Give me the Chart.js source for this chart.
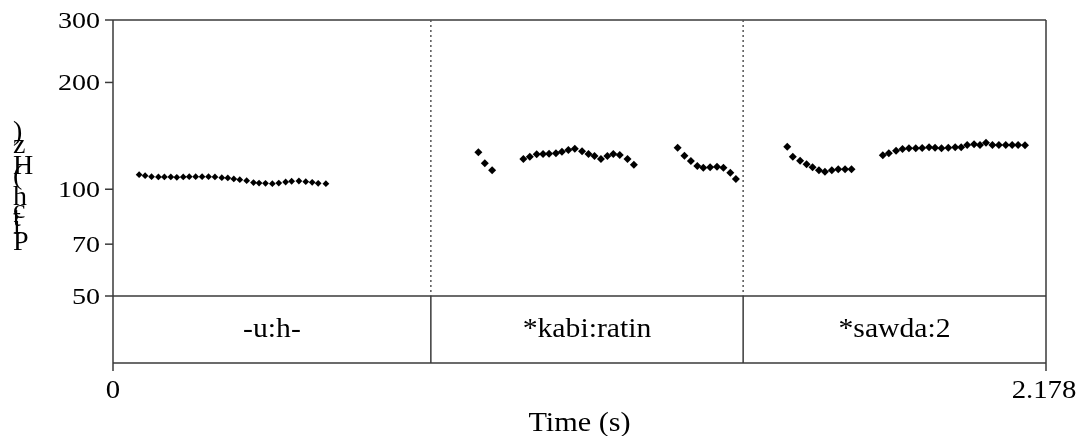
<!DOCTYPE html>
<html>
<head>
<meta charset="utf-8">
<title>Pitch track</title>
<script src="https://cdn.jsdelivr.net/npm/chart.js@4.4.1/dist/chart.umd.min.js"></script>
<style>
  body { margin: 0; background: #fff; }
  #wrap { width: 1080px; height: 436px; }
</style>
</head>
<body>
<div id="wrap"><canvas id="pitch-chart" width="1080" height="436"></canvas></div>
<script>
// Axis ranges and tick labels
const timeMin = 0;
const timeMax = 2.178;
const pitchMin = 50;
const pitchMax = 300;
const pitchTicks = [50, 70, 100, 200, 300];
const timeTickLabels = ['0', '2.178'];
const xTitle = 'Time (s)';
const yTitle = 'Pitch (Hz)';

// Text grid tier: interval boundaries (s) and labels
const tierBounds = [0, 0.742, 1.471, 2.178];
const tierLabels = ['-u:h-', '*kabi:ratin', '*sawda:2'];

// Voiced stretches: time (s) and pitch (Hz)
const seg1Time = [0.061, 0.075, 0.090, 0.106, 0.120, 0.135, 0.149, 0.164, 0.178, 0.193,
                  0.208, 0.223, 0.238, 0.254, 0.268, 0.282, 0.296, 0.312, 0.328, 0.341,
                  0.356, 0.372, 0.387, 0.403, 0.417, 0.434, 0.450, 0.465, 0.479, 0.497];
const seg1Hz = [109.9, 109.2, 108.5, 108.3, 108.3, 108.3, 108.0, 108.3, 108.5, 108.5,
                108.5, 108.5, 108.3, 107.8, 107.6, 106.9, 106.4, 105.7, 104.4, 104.1,
                103.9, 103.7, 104.1, 104.8, 105.3, 105.5, 105.0, 104.6, 103.9, 103.7];

const seg2aTime = [0.853, 0.868, 0.885];
const seg2aHz = [127.1, 118.3, 113.1];

const seg2bTime = [0.958, 0.973, 0.989, 1.004, 1.018, 1.034, 1.048, 1.063, 1.078,
                   1.095, 1.110, 1.124, 1.139, 1.154, 1.168, 1.183, 1.201, 1.216];
const seg2bHz = [121.7, 123.5, 125.5, 125.7, 126.0, 126.3, 127.6, 129.0, 130.1,
                 127.9, 125.7, 124.1, 121.7, 124.1, 125.7, 124.9, 121.7, 117.3];

const seg2cTime = [1.318, 1.334, 1.349, 1.364, 1.378, 1.394, 1.410, 1.425, 1.441, 1.454];
const seg2cHz = [131.0, 124.3, 120.1, 116.3, 115.0, 115.3, 115.8, 115.0, 111.3, 106.9];

const seg3aTime = [1.574, 1.587, 1.604, 1.619, 1.633, 1.648, 1.662, 1.678, 1.693, 1.709, 1.724];
const seg3aHz = [131.8, 123.5, 120.4, 117.6, 115.3, 113.1, 112.1, 113.1, 113.8, 113.8, 113.8];

const seg3bTime = [1.797, 1.811, 1.828, 1.843, 1.858, 1.874, 1.889, 1.905, 1.919, 1.934, 1.950, 1.966,
                   1.980, 1.994, 2.010, 2.024, 2.038, 2.053, 2.068, 2.084, 2.099, 2.113, 2.129];
const seg3bHz = [124.7, 126.3, 128.4, 129.9, 130.5, 130.5, 130.7, 131.3, 131.0, 130.5, 131.0, 131.3,
                 131.3, 133.3, 133.9, 133.3, 135.3, 133.3, 133.3, 133.3, 133.3, 133.3, 133.0];

const segments = [
    { time: seg1Time, hz: seg1Hz, radius: 3.4 },
    { time: seg2aTime, hz: seg2aHz, radius: 4 },
    { time: seg2bTime, hz: seg2bHz, radius: 4 },
    { time: seg2cTime, hz: seg2cHz, radius: 4 },
    { time: seg3aTime, hz: seg3aHz, radius: 4 },
    { time: seg3bTime, hz: seg3bHz, radius: 4 }
];

const serif = '"Liberation Serif", "Times New Roman", Times, serif';

// Draw text stretched horizontally like the original export
function drawText(ctx, text, x, y, size, sx, align) {
    ctx.save();
    ctx.font = size + 'px ' + serif;
    ctx.textAlign = align || 'center';
    ctx.textBaseline = 'alphabetic';
    ctx.fillStyle = '#000';
    ctx.translate(x, y);
    ctx.scale(sx, 1);
    ctx.fillText(text, 0, 0);
    ctx.restore();
}

function line(ctx, x1, y1, x2, y2) {
    ctx.beginPath();
    ctx.moveTo(x1, y1);
    ctx.lineTo(x2, y2);
    ctx.stroke();
}

// Frame, ticks, tier and labels
const praatFrame = {
    id: 'praatFrame',
    beforeDatasetsDraw(chart) {
        const ctx = chart.ctx;
        const a = chart.chartArea;
        const xs = chart.scales.x;
        const ys = chart.scales.y;
        const tierBottom = a.bottom + 67;
        const tick = 8;

        ctx.save();
        ctx.strokeStyle = '#3a3a3a';
        ctx.lineWidth = 1.5;

        // outer frame
        line(ctx, a.left, a.top, a.left, tierBottom + tick);
        line(ctx, a.right, a.top, a.right, tierBottom + tick);
        line(ctx, a.left, a.top, a.right, a.top);
        line(ctx, a.left, a.bottom, a.right, a.bottom);
        line(ctx, a.left, tierBottom, a.right, tierBottom);

        // pitch ticks
        pitchTicks.forEach(v => {
            const py = ys.getPixelForValue(v);
            line(ctx, a.left - tick, py, a.left, py);
            drawText(ctx, String(v), a.left - 13, py + 8, 23, 1.22, 'right');
        });

        // tier boundaries
        tierBounds.slice(1, -1).forEach(t => {
            const px = xs.getPixelForValue(t);
            ctx.save();
            ctx.strokeStyle = '#555';
            ctx.setLineDash([2, 3]);
            line(ctx, px, a.top, px, a.bottom);
            ctx.restore();
            line(ctx, px, a.bottom, px, tierBottom);
        });
        ctx.restore();

        // tier labels
        tierLabels.forEach((label, i) => {
            const mid = (xs.getPixelForValue(tierBounds[i]) + xs.getPixelForValue(tierBounds[i + 1])) / 2;
            drawText(ctx, label, mid, a.bottom + 41, 27, 1.1, 'center');
        });

        // time labels
        drawText(ctx, timeTickLabels[0], xs.getPixelForValue(timeMin), tierBottom + 35, 25, 1.15, 'center');
        drawText(ctx, timeTickLabels[1], xs.getPixelForValue(timeMax) - 2, tierBottom + 35, 25, 1.15, 'center');
        drawText(ctx, xTitle, (a.left + a.right) / 2, tierBottom + 68, 27, 1.12, 'center');

        // y title: upright glyphs stacked bottom to top
        ctx.save();
        ctx.font = '28px ' + serif;
        ctx.textAlign = 'left';
        ctx.textBaseline = 'alphabetic';
        ctx.fillStyle = '#000';
        let yPos = 250;
        for (const ch of yTitle) {
            ctx.fillText(ch, 13, yPos);
            yPos -= ctx.measureText(ch).width * 1.03;
        }
        ctx.restore();
    }
};

function buildChart() {
    const ctx = document.getElementById('pitch-chart').getContext('2d');
    new Chart(ctx, {
        type: 'scatter',
        data: {
            datasets: segments.map(s => ({
                data: s.time.map((t, i) => ({ x: t, y: s.hz[i] })),
                pointStyle: 'rectRot',
                pointRadius: s.radius,
                backgroundColor: '#000',
                borderColor: '#000',
                borderWidth: 0,
                showLine: false
            }))
        },
        options: {
            responsive: false,
            animation: false,
            events: [],
            layout: {
                padding: { left: 113, top: 20, right: 34, bottom: 140 }
            },
            plugins: {
                legend: { display: false },
                tooltip: { enabled: false }
            },
            scales: {
                x: { type: 'linear', min: timeMin, max: timeMax, display: false },
                y: { type: 'logarithmic', min: pitchMin, max: pitchMax, display: false }
            }
        },
        plugins: [praatFrame]
    });
}

// make sure the serif face is ready before drawing on the canvas
document.fonts.load('27px "Liberation Serif"').then(buildChart, buildChart);
</script>
</body>
</html>
